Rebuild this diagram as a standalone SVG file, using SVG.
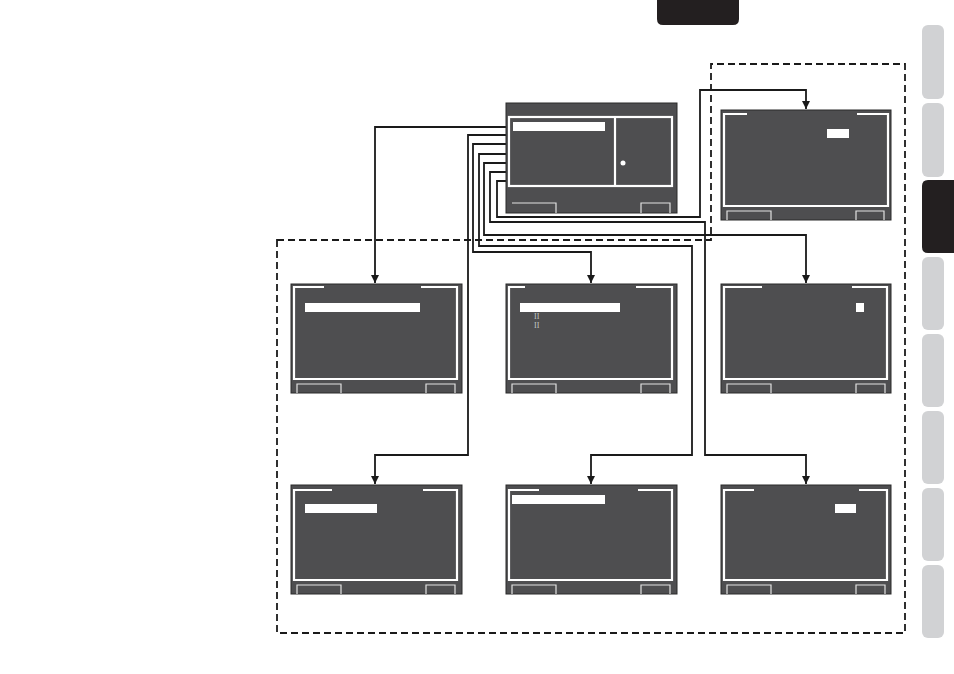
<svg xmlns="http://www.w3.org/2000/svg" width="954" height="674" viewBox="0 0 954 674">
<style>
.scr{fill:#4e4e50;stroke:#2a2a2a;stroke-width:1}
.frm{fill:none;stroke:#ffffff;stroke-width:2.2}
.btn{fill:none;stroke:#e2e2e2;stroke-width:1.2}
.bar{fill:#ffffff}
.con{fill:none;stroke:#1a1a1a;stroke-width:1.8}
.dash{fill:none;stroke:#1a1a1a;stroke-width:1.8;stroke-dasharray:7 4}
.tab{fill:#d1d2d4}
.dk{fill:#231f20}
.lbl{font-family:"Liberation Serif",serif;font-size:8px;fill:#c4c4c4}
</style>
<defs>
<marker id="ah" viewBox="0 0 8 8" refX="8" refY="4" markerWidth="8" markerHeight="8" orient="auto" markerUnits="userSpaceOnUse">
<path d="M0,0 L8,4 L0,8 z" fill="#1a1a1a"/>
</marker>
</defs>
<rect width="954" height="674" fill="#ffffff"/>

<g id="side-tabs">
<path class="dk" d="M657,0 H739 V19 Q739,25 733,25 H663 Q657,25 657,19 Z"/>
<rect class="tab" x="922" y="25" width="22" height="74" rx="6"/>
<rect class="tab" x="922" y="103" width="22" height="74" rx="6"/>
<path class="dk" d="M954,180 H928 Q922,180 922,186 V247 Q922,253 928,253 H954 Z"/>
<rect class="tab" x="922" y="257" width="22" height="73" rx="6"/>
<rect class="tab" x="922" y="334" width="22" height="73" rx="6"/>
<rect class="tab" x="922" y="411" width="22" height="73" rx="6"/>
<rect class="tab" x="922" y="488" width="22" height="73" rx="6"/>
<rect class="tab" x="922" y="565" width="22" height="73" rx="6"/>
</g>

<g id="dashed-region">
<path class="dash" d="M277,240 H711 V64 H905 V633 H277 Z"/>
</g>

<g id="connectors">
<path class="con" d="M509,127 H375 V283" marker-end="url(#ah)"/>
<path class="con" d="M509,135 H468 V455 H375 V484" marker-end="url(#ah)"/>
<path class="con" d="M509,144 H473 V252 H591 V283" marker-end="url(#ah)"/>
<path class="con" d="M509,154 H479 V246 H692 V455 H591 V484" marker-end="url(#ah)"/>
<path class="con" d="M509,163 H484 V235 H806 V283" marker-end="url(#ah)"/>
<path class="con" d="M509,172 H490 V222 H705 V455 H806 V484" marker-end="url(#ah)"/>
<path class="con" d="M509,181 H497 V217 H700 V90 H806 V109" marker-end="url(#ah)"/>
</g>

<g id="main-screen">
<rect class="scr" x="506" y="103" width="171" height="110"/>
<rect class="frm" x="509" y="117" width="163" height="69"/>
<line class="frm" x1="615" y1="117" x2="615" y2="186"/>
<rect class="bar" x="513" y="122" width="92" height="9"/>
<circle cx="623" cy="163" r="2.5" fill="#ffffff"/>
<path class="btn" d="M512,203 H556 V213"/>
<path class="btn" d="M641,213 V203 H670 V213"/>
</g>

<g id="screen-top-right">
<rect class="scr" x="721" y="110" width="170" height="110"/>
<path class="frm" d="M747,114 H724 V206 H888 V114 H857"/>
<rect class="bar" x="827" y="129" width="22" height="9"/>
<path class="btn" d="M727,220 V211 H771 V220"/>
<path class="btn" d="M856,220 V211 H884 V220"/>
</g>

<g id="screen-mid-left">
<rect class="scr" x="291" y="284" width="171" height="109"/>
<path class="frm" d="M324,287 H294 V379 H457 V287 H421"/>
<rect class="bar" x="305" y="303" width="115" height="9"/>
<path class="btn" d="M297,393 V384 H341 V393"/>
<path class="btn" d="M426,393 V384 H455 V393"/>
</g>

<g id="screen-mid-center">
<rect class="scr" x="506" y="284" width="171" height="109"/>
<path class="frm" d="M525,287 H509 V379 H672 V287 H636"/>
<rect class="bar" x="520" y="303" width="100" height="9"/>
<text class="lbl" x="534" y="319">II</text>
<text class="lbl" x="534" y="328">II</text>
<path class="btn" d="M512,393 V384 H556 V393"/>
<path class="btn" d="M641,393 V384 H670 V393"/>
</g>

<g id="screen-mid-right">
<rect class="scr" x="721" y="284" width="170" height="109"/>
<path class="frm" d="M762,287 H724 V379 H887 V287 H852"/>
<rect class="bar" x="856" y="303" width="8" height="9"/>
<path class="btn" d="M727,393 V384 H771 V393"/>
<path class="btn" d="M856,393 V384 H885 V393"/>
</g>

<g id="screen-bottom-left">
<rect class="scr" x="291" y="485" width="171" height="109"/>
<path class="frm" d="M332,490 H294 V580 H457 V490 H423"/>
<rect class="bar" x="305" y="504" width="72" height="9"/>
<path class="btn" d="M297,594 V585 H341 V594"/>
<path class="btn" d="M426,594 V585 H455 V594"/>
</g>

<g id="screen-bottom-center">
<rect class="scr" x="506" y="485" width="171" height="109"/>
<path class="frm" d="M539,490 H509 V580 H672 V490 H638"/>
<rect class="bar" x="512" y="495" width="93" height="9"/>
<path class="btn" d="M512,594 V585 H556 V594"/>
<path class="btn" d="M641,594 V585 H670 V594"/>
</g>

<g id="screen-bottom-right">
<rect class="scr" x="721" y="485" width="170" height="109"/>
<path class="frm" d="M754,490 H724 V580 H887 V490 H859"/>
<rect class="bar" x="835" y="504" width="21" height="9"/>
<path class="btn" d="M727,594 V585 H771 V594"/>
<path class="btn" d="M856,594 V585 H885 V594"/>
</g>
</svg>
